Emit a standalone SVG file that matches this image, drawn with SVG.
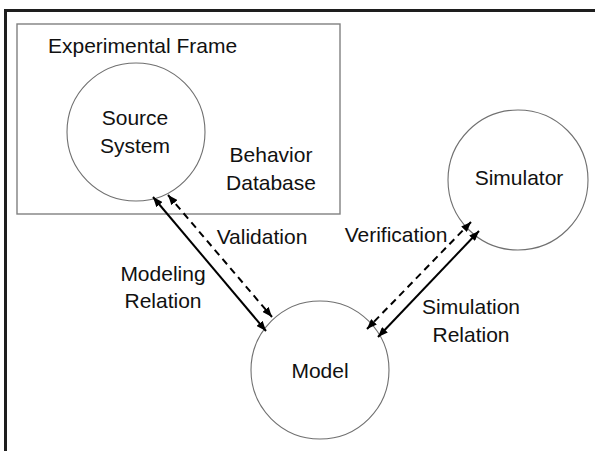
<svg xmlns="http://www.w3.org/2000/svg" width="595" height="451" viewBox="0 0 595 451">
  <style>
    .lbl { font-family: "Liberation Sans", Arial, sans-serif; font-size: 21px; fill: #111; }
    .mid { text-anchor: middle; }
    .node { fill: none; stroke: #707070; stroke-width: 1.1; }
    .frame { fill: none; stroke: #808080; stroke-width: 1.4; }
    .solid { stroke: #000; stroke-width: 2; fill: none; }
    .dash { stroke: #000; stroke-width: 2; fill: none; stroke-dasharray: 7 5; }
  </style>
  <defs>
    <marker id="head" viewBox="0 0 10 8" refX="10" refY="4" markerWidth="10" markerHeight="8" markerUnits="userSpaceOnUse" orient="auto-start-reverse">
      <path d="M0,0 L10,4 L0,8 Z" fill="#000"/>
    </marker>
  </defs>

  <rect width="595" height="451" fill="#fff"/>

  <!-- outer border: only top and left edges fall inside the page -->
  <path d="M5.5,451 V10.5 H595" fill="none" stroke="#1e1e1e" stroke-width="3"/>

  <!-- experimental frame -->
  <g id="experimental-frame">
    <rect class="frame" x="17" y="24" width="323" height="190"/>
    <text class="lbl" x="48" y="53">Experimental Frame</text>
    <text class="lbl mid" x="271" y="162">Behavior</text>
    <text class="lbl mid" x="271" y="190">Database</text>
  </g>

  <g id="source-system">
    <circle class="node" cx="136" cy="132" r="69"/>
    <text class="lbl mid" x="135" y="125">Source</text>
    <text class="lbl mid" x="135" y="153">System</text>
  </g>

  <g id="simulator">
    <circle class="node" cx="518" cy="180" r="70"/>
    <text class="lbl mid" x="519" y="185">Simulator</text>
  </g>

  <g id="model">
    <circle class="node" cx="320" cy="370" r="69"/>
    <text class="lbl mid" x="320" y="378">Model</text>
  </g>

  <!-- relations between the nodes -->
  <g id="connectors">
    <line class="solid" x1="153" y1="197" x2="266" y2="331" marker-start="url(#head)" marker-end="url(#head)"/>
    <line class="dash" x1="168" y1="195" x2="272" y2="317" marker-start="url(#head)" marker-end="url(#head)"/>
    <line class="solid" x1="479" y1="231" x2="378" y2="337" marker-start="url(#head)" marker-end="url(#head)"/>
    <line class="dash" x1="471" y1="222" x2="367" y2="329" marker-start="url(#head)" marker-end="url(#head)"/>
  </g>

  <g id="relation-labels">
    <text class="lbl mid" x="262" y="244">Validation</text>
    <text class="lbl mid" x="163" y="281">Modeling</text>
    <text class="lbl mid" x="163" y="308">Relation</text>
    <text class="lbl mid" x="396" y="242">Verification</text>
    <text class="lbl mid" x="471" y="314">Simulation</text>
    <text class="lbl mid" x="471" y="342">Relation</text>
  </g>
</svg>
